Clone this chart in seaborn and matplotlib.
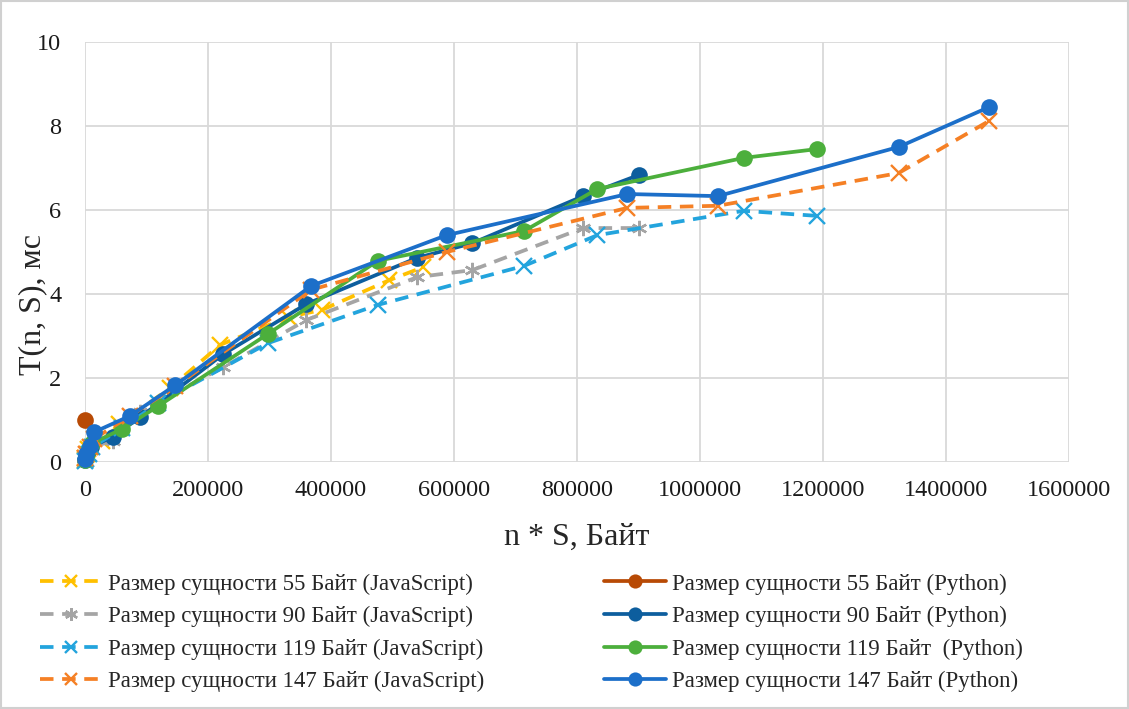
import matplotlib
matplotlib.use("Agg")
import matplotlib.pyplot as plt
import seaborn as sns
import pandas as pd
from matplotlib.ticker import FuncFormatter

# data (x = n * S, y = time in ms)
x_js55 = [55, 550, 2750, 5500, 27500, 55000, 137500, 220000, 330000, 385000, 495000, 550000]
y_js55 = [0.05, 0.1, 0.2, 0.3, 0.5, 0.9, 1.75, 2.79, 3.45, 3.62, 4.33, 4.64]

x_py55 = [55]
y_py55 = [1.0]

x_js90 = [90, 900, 4500, 9000, 45000, 90000, 225000, 360000, 540000, 630000, 810000, 900000]
y_js90 = [0.05, 0.1, 0.25, 0.35, 0.5, 1.2, 2.26, 3.38, 4.4, 4.57, 5.57, 5.57]

x_py90 = [90, 900, 4500, 9000, 45000, 90000, 225000, 360000, 540000, 630000, 810000, 900000]
y_py90 = [0.05, 0.12, 0.25, 0.35, 0.6, 1.07, 2.57, 3.76, 4.86, 5.21, 6.33, 6.83]

x_js119 = [119, 1190, 5950, 11900, 59500, 119000, 297500, 476000, 714000, 833000, 1071000, 1190000]
y_js119 = [0.03, 0.06, 0.2, 0.35, 0.8, 1.4, 2.83, 3.74, 4.67, 5.4, 5.98, 5.86]

x_py119 = [119, 1190, 5950, 11900, 59500, 119000, 297500, 476000, 714000, 833000, 1071000, 1190000]
y_py119 = [0.05, 0.15, 0.3, 0.45, 0.78, 1.33, 3.05, 4.79, 5.5, 6.5, 7.24, 7.45]

x_js147 = [147, 1470, 7350, 14700, 73500, 147000, 367500, 588000, 882000, 1029000, 1323000, 1470000]
y_js147 = [0.1, 0.2, 0.35, 0.55, 1.1, 1.8, 4.1, 5.0, 6.05, 6.1, 6.88, 8.12]

x_py147 = [147, 1470, 7350, 14700, 73500, 147000, 367500, 588000, 882000, 1029000, 1323000, 1470000]
y_py147 = [0.08, 0.2, 0.38, 0.71, 1.1, 1.83, 4.19, 5.4, 6.38, 6.33, 7.5, 8.45]

sns.set_style("white")
plt.rcParams['font.family'] = ['Liberation Serif', 'DejaVu Serif']

fig = plt.figure(figsize=(11.29, 7.09), dpi=100)
ax = fig.add_axes([0.0753, 0.3484, 0.8716, 0.5924])

# (label, x, y, color, python?, marker)
series = [
    ('Размер сущности 55 Байт (JavaScript)', x_js55, y_js55, '#FFC000', False, 'x'),
    ('Размер сущности 55 Байт (Python)', x_py55, y_py55, '#B84A05', True, 'o'),
    ('Размер сущности 90 Байт (JavaScript)', x_js90, y_js90, '#A5A5A5', False, (6, 2, 0)),
    ('Размер сущности 90 Байт (Python)', x_py90, y_py90, '#0D5E9E', True, 'o'),
    ('Размер сущности 119 Байт (JavaScript)', x_js119, y_js119, '#23A4DD', False, 'x'),
    ('Размер сущности 119 Байт  (Python)', x_py119, y_py119, '#4CAF3C', True, 'o'),
    ('Размер сущности 147 Байт (JavaScript)', x_js147, y_js147, '#F58025', False, 'x'),
    ('Размер сущности 147 Байт (Python)', x_py147, y_py147, '#1C6FC9', True, 'o'),
]

handles = {}
for i, (label, xs, ys, color, is_py, marker) in enumerate(series):
    df = pd.DataFrame({'x': xs, 'y': ys})
    if is_py:
        sns.lineplot(data=df, x='x', y='y', ax=ax, color=color, lw=2.7,
                     marker='o', markersize=12, markeredgewidth=0,
                     label=label, zorder=3 + i, clip_on=False)
    else:
        sns.lineplot(data=df, x='x', y='y', ax=ax, color=color, lw=2.7,
                     marker=marker, markersize=11, markeredgewidth=1.7,
                     markeredgecolor=color, dashes=(3.6, 2.3),
                     label=label, zorder=3 + i, clip_on=False)
    handles[label] = ax.get_lines()[-1]

ax.set_xlim(0, 1600000)
ax.set_ylim(0, 10)
ax.set_xticks(range(0, 1600001, 200000))
ax.set_yticks(range(0, 11, 2))
ax.xaxis.set_major_formatter(FuncFormatter(lambda v, p: '%d' % v))
ax.grid(True, color='#D9D9D9', lw=1.3)
ax.set_axisbelow(True)
for s in ax.spines.values():
    s.set_visible(False)
ax.tick_params(axis='x', length=0, pad=13, labelsize=17.5, colors='#1a1a1a')
ax.tick_params(axis='y', length=0, pad=17, labelsize=17.5, colors='#1a1a1a')

ax.set_xlabel('n * S, Байт', fontsize=23)
ax.set_ylabel('T(n, S), мс', fontsize=23)
ax.xaxis.set_label_coords(0.5, -0.144)
ax.yaxis.set_label_coords(-0.038, 0.374)

# legend: JS in the left column, Python in the right column
order = [0, 2, 4, 6, 1, 3, 5, 7]
labels = [series[k][0] for k in order]
ax.legend([handles[l] for l in labels], labels, ncol=2, loc='upper left',
          bbox_to_anchor=(-0.0665, -0.216), frameon=False, fontsize=16.5,
          handlelength=2.7, handletextpad=0.25, labelspacing=0.5,
          columnspacing=5.25, markerscale=0.85)

fig.patches.append(plt.Rectangle((0.001, 0.001), 0.998, 0.998, transform=fig.transFigure,
                                 fill=False, edgecolor='#D0D0D0', lw=1.5))

plt.savefig('out.png', dpi=100)
